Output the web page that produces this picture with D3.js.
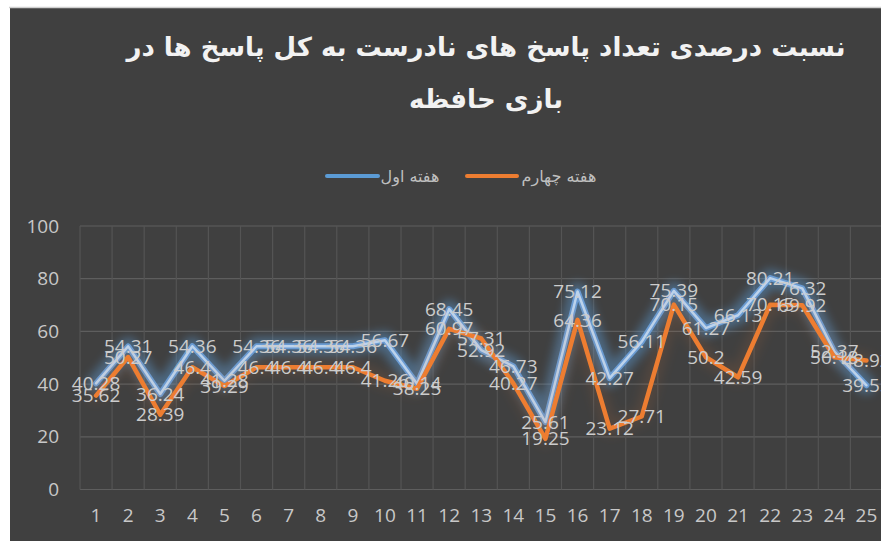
<!DOCTYPE html>
<html>
<head>
<meta charset="utf-8">
<script src="https://cdn.jsdelivr.net/npm/d3@7/dist/d3.min.js"></script>
<style>
  html, body { margin: 0; padding: 0; background: #ffffff; }
  svg { display: block; }
</style>
</head>
<body>
<div id="chart"></div>
<script>
/* data */
var days = [1, 2, 3, 4, 5, 6, 7, 8, 9, 10, 11, 12, 13, 14, 15, 16, 17, 18, 19, 20, 21, 22, 23, 24, 25];
var week1 = [40.28, 54.31, 36.24, 54.36, 41.28, 54.36, 54.36, 54.36, 54.36, 56.67, 40.14, 68.45, 52.92,
             46.73, 25.61, 75.12, 42.27, 56.11, 75.39, 61.27, 66.13, 80.21, 76.32, 52.37, 39.55];
var week4 = [35.62, 50.27, 28.39, 46.4, 39.29, 46.4, 46.4, 46.4, 46.4, 41.26, 38.25, 60.97, 57.31,
             40.27, 19.25, 64.36, 23.12, 27.71, 70.15, 50.2, 42.59, 70.15, 69.92, 50.18, 48.92];
var yTicks = [0, 20, 40, 60, 80, 100];
var titleLines = ["نسبت درصدی تعداد پاسخ های نادرست  به کل پاسخ ها در", "بازی حافظه"];
var seriesNames = ["هفته اول", "هفته چهارم"];

var width = 881, height = 541;
var numFont = "'Open Sans', 'DejaVu Sans', sans-serif";
var faFont = "'DejaVu Sans', sans-serif";

var svg = d3.select("#chart").append("svg")
    .attr("width", width)
    .attr("height", height);

/* glow filters */
var defs = svg.append("defs");
[["glowBlue", 5], ["glowOrange", 6]].forEach(function(f) {
  defs.append("filter").attr("id", f[0])
      .attr("x", "-20%").attr("y", "-50%").attr("width", "140%").attr("height", "200%")
    .append("feGaussianBlur").attr("stdDeviation", f[1]);
});

/* chart background */
svg.append("rect")
    .attr("x", 10).attr("y", 8)
    .attr("width", width).attr("height", height)
    .attr("fill", "#404040");
svg.append("line")
    .attr("x1", 9).attr("x2", width).attr("y1", 7.5).attr("y2", 7.5)
    .attr("stroke", "#d0d0d0").attr("stroke-width", 1.5);

/* scales */
var x = d3.scaleBand().domain(days).range([80, 80 + 32.1 * days.length]);
var y = d3.scaleLinear().domain([0, 100]).range([489.5, 226]);

/* title */
svg.append("g").selectAll("text").data(titleLines)
  .enter().append("text")
    .attr("x", 486)
    .attr("y", function(d, i) { return 56 + i * 52; })
    .attr("text-anchor", "middle")
    .attr("direction", "rtl")
    .attr("font-family", faFont)
    .attr("font-weight", "bold")
    .attr("font-size", 26)
    .attr("fill", "#f2f2f2")
    .text(function(d) { return d; });

/* legend */
var legend = svg.append("g").attr("font-family", faFont).attr("font-size", 16).attr("fill", "#bfbfbf");
legend.append("line").attr("x1", 327).attr("x2", 378).attr("y1", 176).attr("y2", 176)
    .attr("stroke", "#5b9bd5").attr("stroke-width", 4).attr("stroke-linecap", "round");
legend.append("text").attr("x", 410).attr("y", 182).attr("text-anchor", "middle").text(seriesNames[0]);
legend.append("line").attr("x1", 467).attr("x2", 517).attr("y1", 176).attr("y2", 176)
    .attr("stroke", "#ed7d31").attr("stroke-width", 4).attr("stroke-linecap", "round");
legend.append("text").attr("x", 559).attr("y", 182).attr("text-anchor", "middle").text(seriesNames[1]);

/* gridlines */
var grid = svg.append("g");
grid.selectAll("line.h").data(yTicks)
  .enter().append("line").attr("class", "h")
    .attr("x1", x.range()[0]).attr("x2", x.range()[1])
    .attr("y1", function(d) { return y(d); }).attr("y2", function(d) { return y(d); })
    .attr("stroke", "#5e5e5e").attr("stroke-width", 1.2);
grid.selectAll("line.v").data(days.concat([26]))
  .enter().append("line").attr("class", "v")
    .attr("x1", function(d, i) { return x.range()[0] + i * x.step(); })
    .attr("x2", function(d, i) { return x.range()[0] + i * x.step(); })
    .attr("y1", y(100)).attr("y2", y(0))
    .attr("stroke", "#545454").attr("stroke-width", 1.2);

/* y axis */
var yAxis = d3.axisLeft(y).tickValues(yTicks).tickSize(0).tickPadding(0);
var yg = svg.append("g").attr("transform", "translate(59,0)").call(yAxis);
yg.select(".domain").remove();
yg.selectAll("text").attr("font-family", numFont).attr("font-size", 19).attr("fill", "#c8c8c8");

/* x axis */
var xAxis = d3.axisBottom(x).tickSize(0).tickPadding(0);
var xg = svg.append("g").attr("transform", "translate(0,508)").call(xAxis);
xg.select(".domain").remove();
xg.selectAll("text").attr("font-family", numFont).attr("font-size", 19).attr("fill", "#c8c8c8");

/* lines */
function lineFor(values) {
  return d3.line()
      .x(function(d, i) { return x(days[i]) + x.bandwidth() / 2; })
      .y(function(d) { return y(d); })(values);
}

var lines = svg.append("g").attr("fill", "none").attr("stroke-linejoin", "round").attr("stroke-linecap", "round");
lines.append("path").attr("d", lineFor(week1))
    .attr("stroke", "#5b9bd5").attr("stroke-width", 18).attr("opacity", 0.45)
    .attr("filter", "url(#glowBlue)");
lines.append("path").attr("d", lineFor(week1))
    .attr("stroke", "#6a9bd2").attr("stroke-width", 6);
lines.append("path").attr("d", lineFor(week1))
    .attr("stroke", "#bcd3ec").attr("stroke-width", 2.5);

lines.append("path").attr("d", lineFor(week4))
    .attr("stroke", "#ed7d31").attr("stroke-width", 14).attr("opacity", 0.12)
    .attr("filter", "url(#glowOrange)");
lines.append("path").attr("d", lineFor(week4))
    .attr("stroke", "#ed7d31").attr("stroke-width", 4.5);

/* data labels */
var labels = svg.append("g")
    .attr("font-family", numFont).attr("font-size", 19)
    .attr("fill", "#cccccc").attr("text-anchor", "middle");
[week1, week4].forEach(function(values) {
  labels.selectAll(null).data(values)
    .enter().append("text")
      .attr("x", function(d, i) { return x(days[i]) + x.bandwidth() / 2; })
      .attr("y", function(d) { return y(d); })
      .attr("dy", "0.35em")
      .text(function(d) { return d; });
});
</script>
</body>
</html>
